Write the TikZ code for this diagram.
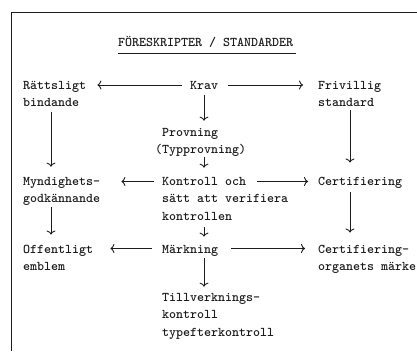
\documentclass[tikz,border=0pt]{standalone}
\usetikzlibrary{arrows.meta}
\definecolor{ink}{HTML}{1C1C1C}
\tikzset{
  txt/.style={anchor=base west, inner sep=0pt, align=left, text=ink,
    font=\fontsize{13.33}{17.5}\selectfont\ttfamily\bfseries},
  arr/.style={draw=ink, line width=0.9pt, -{To[length=4pt,width=9pt]}},
  frame/.style={draw=ink, line width=1pt},
}
\begin{document}
\begin{tikzpicture}[x=1pt, y=-1pt]
\useasboundingbox (0,0) rectangle (417,351);

% page frame
\draw[frame] (417,12) -- (11,12) -- (11,351);

% title
\node[txt] (title) at (118,46) {FÖRESKRIPTER / STANDARDER};
\draw[draw=ink, line width=0.8pt] ([yshift=-7pt]title.base west) -- ([yshift=-7pt,xshift=3pt]title.base east);

% rows and columns used by the connectors
\coordinate (ya) at (0,85);
\coordinate (yb) at (0,181.5);
\coordinate (yc) at (0,248.5);
\coordinate (xl) at (51,0);
\coordinate (xm) at (204,0);
\coordinate (xr) at (350,0);

% texts (placed by the baseline of their last line)
\node[txt] (ratt)  at (23,106.5)  {Rättsligt\\bindande};
\node[txt] (krav)  at (190,89)    {Krav};
\node[txt] (friv)  at (318,106.5) {Frivillig\\standard};
\node[txt] (prov)  at (162,153.5) {Provning\\\llap{(}Typprovning)};
\node[txt] (mynd)  at (23,202.5)  {Myndighets-\\godkännande};
\node[txt] (kontr) at (162,220)   {Kontroll och\\sätt att verifiera\\kontrollen};
\node[txt] (cert)  at (318,185)   {Certifiering};
\node[txt] (offe)  at (23,270.5)  {Offentligt\\emblem};
\node[txt] (mark)  at (162,253)   {Märkning};
\node[txt] (certm) at (318,270.5) {Certifiering-\\organets märke};
\node[txt] (till)  at (162,336)   {Tillverknings-\\kontroll\\typefterkontroll};

% horizontal connectors
\draw[arr, shorten <=8pt,  shorten >=11pt] (krav.west |- ya) -- (ratt.east |- ya);
\draw[arr, shorten <=10pt, shorten >=15pt] (krav.east |- ya) -- (friv.west |- ya);
\draw[arr, shorten <=8pt,  shorten >=21pt] (kontr.west |- yb) -- (mynd.east |- yb);
\draw[arr, shorten <=95pt, shorten >=10pt] (kontr.west |- yb) -- (cert.west |- yb);
\draw[arr, shorten <=10pt, shorten >=17pt] (mark.west |- yc) -- (offe.east |- yc);
\draw[arr, shorten <=13pt, shorten >=13pt] (mark.east |- yc) -- (certm.west |- yc);

% vertical connectors
\draw[arr, shorten <=5.5pt, shorten >=10pt] (xl |- ratt.south) -- (xl |- mynd.north);
\draw[arr, shorten <=1.5pt, shorten >=10pt] (xl |- mynd.south) -- (xl |- offe.north);
\draw[arr, shorten <=6pt,   shorten >=7pt]  (xm |- krav.south) -- (xm |- prov.north);
\draw[arr, shorten <=0pt,   shorten >=9pt]  (xm |- prov.south) -- (xm |- kontr.north);
\draw[arr, shorten <=7pt,   shorten >=8pt]  (xm |- kontr.south) -- (xm |- mark.north);
\draw[arr, shorten <=1.5pt, shorten >=6pt]  (xm |- mark.south) -- (xm |- till.north);
\draw[arr, shorten <=3.5pt, shorten >=14pt] (xr |- friv.south) -- (xr |- cert.north);
\draw[arr, shorten <=4pt,   shorten >=12pt] (xr |- cert.south) -- (xr |- certm.north);
\end{tikzpicture}
\end{document}
